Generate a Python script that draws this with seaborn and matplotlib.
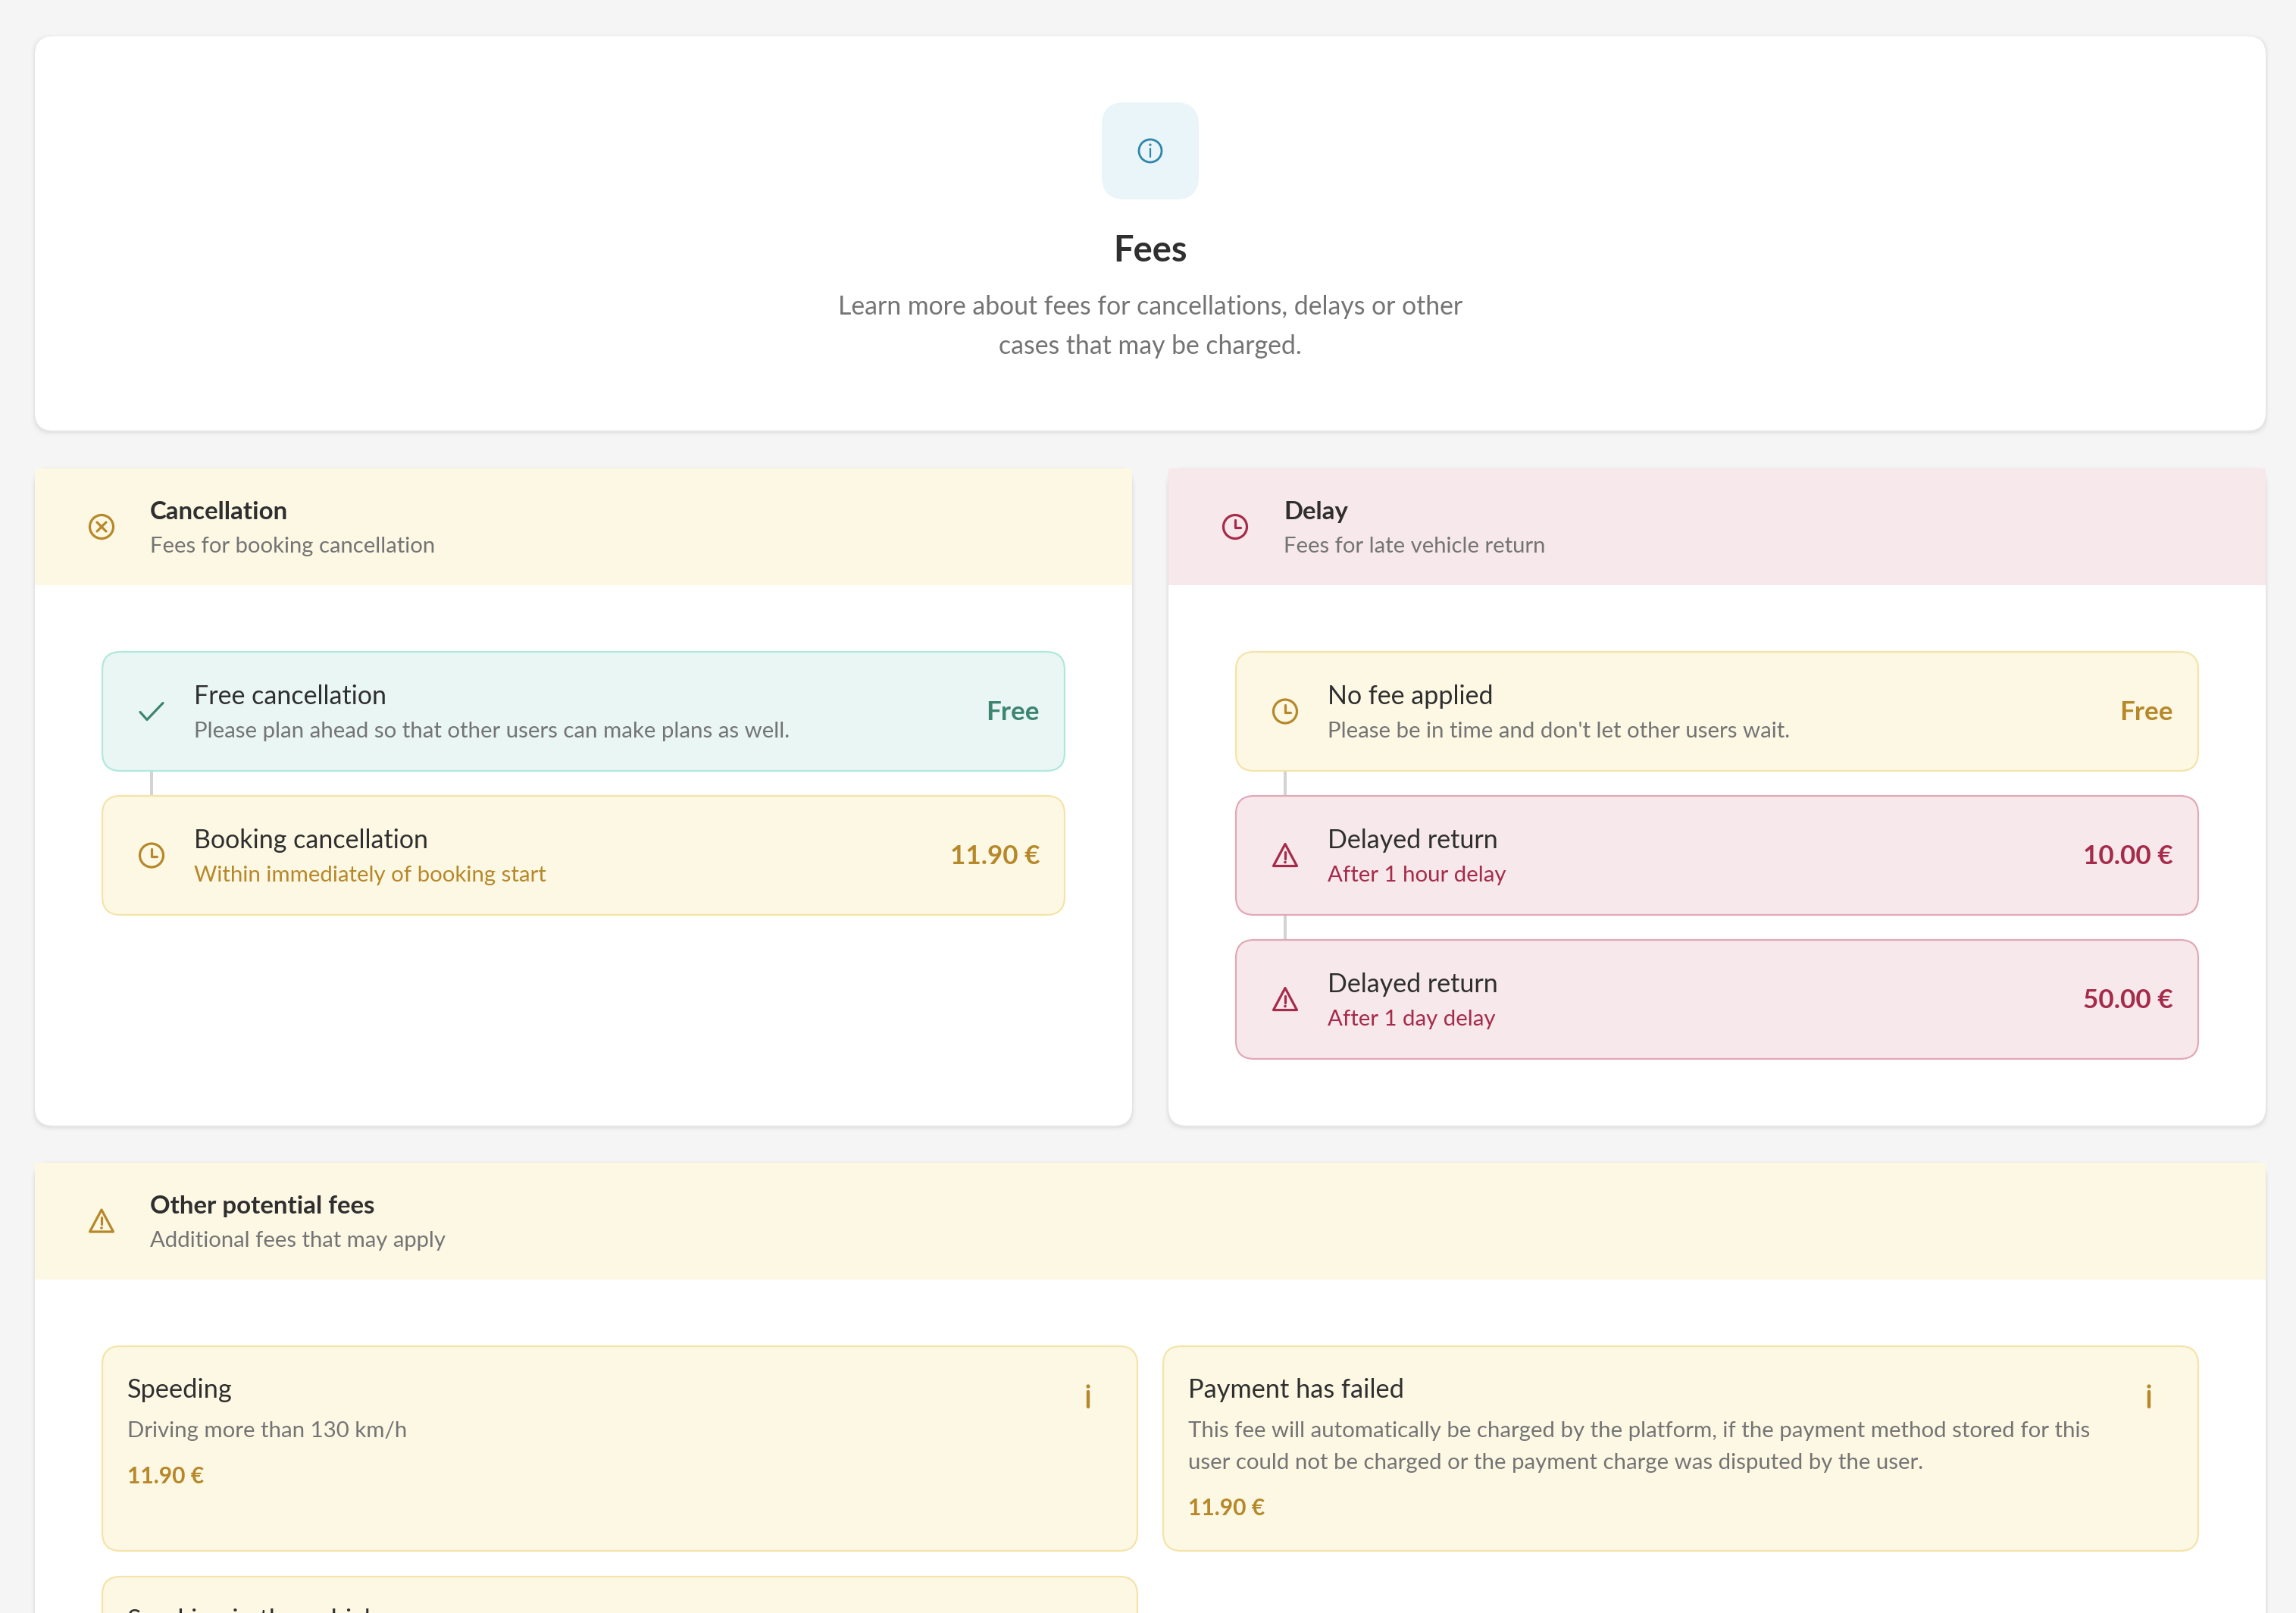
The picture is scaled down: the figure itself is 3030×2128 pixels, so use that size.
#!/usr/bin/env python3
# fees page, drawn in pixel coordinates on a single axes

import matplotlib
matplotlib.use('Agg')
import matplotlib.pyplot as plt
from matplotlib.patches import FancyBboxPatch, Rectangle, Circle, Polygon
import seaborn as sns

# texts
pageTitle = 'Fees'
pageIntro = ['Learn more about fees for cancellations, delays or other', 'cases that may be charged.']

cancelHeader = ['Cancellation', 'Fees for booking cancellation']
delayHeader = ['Delay', 'Fees for late vehicle return']
otherHeader = ['Other potential fees', 'Additional fees that may apply']

cancelTitles = ['Free cancellation', 'Booking cancellation']
cancelNotes = ['Please plan ahead so that other users can make plans as well.', 'Within immediately of booking start']
cancelFees = ['Free', '11.90 €']
cancelTones = ['teal', 'amber']
cancelIcons = ['check', 'clock']

delayTitles = ['No fee applied', 'Delayed return', 'Delayed return']
delayNotes = ["Please be in time and don't let other users wait.", 'After 1 hour delay', 'After 1 day delay']
delayFees = ['Free', '10.00 €', '50.00 €']
delayTones = ['amber', 'rose', 'rose']
delayIcons = ['clock', 'warn', 'warn']

otherTitles = ['Speeding', 'Payment has failed', 'Smoking in the vehicle']
otherNotes = [['Driving more than 130 km/h'],
              ['This fee will automatically be charged by the platform, if the payment method stored for this',
               'user could not be charged or the payment charge was disputed by the user.'],
              []]
otherFees = ['11.90 €', '11.90 €', '']

# colours
pageBg = '#f5f5f5'
inkDark = '#2f2f2f'
inkGray = '#747474'
lineGray = '#d3d3d3'
tones = {'teal': ('#e9f6f3', '#b0e8dc', '#3d8570'),
         'amber': ('#fdf8e4', '#f4e4a9', '#b6882a'),
         'rose': ('#f6e8eb', '#e2a8b6', '#a62b4a')}

PX = 72 / 100  # points per pixel at dpi 100

sns.set_theme(style='white')
plt.rcParams['font.family'] = ['Lato', 'DejaVu Sans']

fig = plt.figure(figsize=(30.3, 21.28), dpi=100, facecolor=pageBg)
ax = fig.add_axes([0, 0, 1, 1])
ax.set_xlim(0, 3030)
ax.set_ylim(2128, 0)
ax.set_facecolor(pageBg)
ax.set_xticks([])
ax.set_yticks([])
sns.despine(ax=ax, left=True, bottom=True)


def roundBox(x0, y0, x1, y1, r, face, edge='none', lw=0, z=2):
    box = FancyBboxPatch((x0, y0), x1 - x0, y1 - y0, boxstyle='round,pad=0,rounding_size=%g' % r,
                         facecolor=face, edgecolor=edge, linewidth=lw * PX, zorder=z)
    ax.add_patch(box)
    return box


def card(x0, y0, x1, y1):
    # soft shadow, then the white card
    for grow, alpha in [(5, 0.012), (3, 0.02), (1.5, 0.03)]:
        roundBox(x0 - grow, y0 - grow + 2, x1 + grow, y1 + grow + 2, 24, (0, 0, 0, alpha), z=1)
    roundBox(x0, y0, x1, y1, 24, 'white', z=2)


def say(x, y, s, size, color=inkDark, weight='normal', ha='left', z=6):
    ax.text(x, y, s, fontsize=size * PX, color=color, fontweight=weight, ha=ha, va='baseline',
            zorder=z, clip_on=True)


def stroke(xs, ys, color, lw=3.2, z=6):
    ax.plot(xs, ys, color=color, linewidth=lw * PX, solid_capstyle='round', solid_joinstyle='round', zorder=z)


def dot(cx, cy, r, color):
    ax.add_patch(Circle((cx, cy), r, facecolor=color, edgecolor='none', zorder=6))


def clockIcon(cx, cy, color):
    ax.add_patch(Circle((cx, cy), 15.5, fill=False, edgecolor=color, linewidth=3.2 * PX, zorder=6))
    stroke([cx, cx, cx + 7], [cy - 9, cy + 1, cy + 1], color)


def crossIcon(cx, cy, color):
    ax.add_patch(Circle((cx, cy), 15.5, fill=False, edgecolor=color, linewidth=3.2 * PX, zorder=6))
    stroke([cx - 6, cx + 6], [cy - 6, cy + 6], color)
    stroke([cx - 6, cx + 6], [cy + 6, cy - 6], color)


def checkIcon(cx, cy, color):
    stroke([cx - 15, cx - 6, cx + 15], [cy + 1, cy + 11, cy - 11], color)


def warnIcon(cx, cy, color):
    ax.add_patch(Polygon([(cx, cy - 15), (cx + 15.5, cy + 14), (cx - 15.5, cy + 14)], closed=True, fill=False,
                         edgecolor=color, linewidth=3.2 * PX, joinstyle='round', zorder=6))
    stroke([cx, cx], [cy - 5, cy + 4], color)
    dot(cx, cy + 9, 1.8, color)


def infoIcon(cx, cy, color):
    ax.add_patch(Circle((cx, cy), 15, fill=False, edgecolor=color, linewidth=2.8 * PX, zorder=6))
    stroke([cx, cx], [cy - 3, cy + 8], color, lw=2.2)
    dot(cx, cy - 8, 1.6, color)


iconDraw = {'clock': clockIcon, 'cross': crossIcon, 'check': checkIcon, 'warn': warnIcon}


def header(x0, x1, y0, texts, tone, icon):
    face, _, ink = tones[tone]
    ax.add_patch(Rectangle((x0, y0), x1 - x0, 154, facecolor=face, edgecolor='none', zorder=3))
    iconDraw[icon](x0 + 88, y0 + 77, ink)
    say(x0 + 152, y0 + 67, texts[0], 33, weight='bold')
    say(x0 + 152, y0 + 111, texts[1], 29.3, color=inkGray)


def rowStack(x0, x1, titles, notes, fees, toneNames, icons):
    # rows sit 190 px apart with a grey connector between them
    for i in range(len(titles)):
        top = 860 + 190 * i
        face, edge, ink = tones[toneNames[i]]
        if i > 0:
            sns.lineplot(x=[x0 + 65, x0 + 65], y=[top - 34, top], estimator=None, color=lineGray,
                         linewidth=4 * PX, ax=ax, legend=False, zorder=3)
        roundBox(x0, top, x1, top + 157, 24, face, edge, 2.2, z=4)
        iconDraw[icons[i]](x0 + 65, top + 78.5, ink)
        say(x0 - 1 + 122, top + 69, titles[i], 34)
        noteInk = inkGray if i == 0 else ink
        say(x0 - 1 + 122, top + 113, notes[i], 29.4, color=noteInk)
        say(x1 - 33, top + 90, fees[i], 35, color=ink, weight='bold', ha='right')


def tile(x0, x1, y0, y1, title, notes, fee):
    face, edge, ink = tones['amber']
    roundBox(x0, y0, x1, y1, 24, face, edge, 2.2, z=4)
    say(x0 + 33, y0 + 68, title, 34.4)
    base = y0 + 120
    for line in notes:
        say(x0 + 33, base, line, 29.4, color=inkGray)
        base += 42
    if fee:
        say(x0 + 33, base + 19, fee, 30, color=ink, weight='bold')
        # small i mark at the right of the tile
        stroke([x1 - 65, x1 - 65], [y0 + 60, y0 + 80], ink, lw=4.4)
        dot(x1 - 65, y0 + 53, 2.6, ink)


# top card
card(46, 48, 2990, 568)
roundBox(1454, 135, 1582, 263, 30, '#e9f5f9', z=3)
infoIcon(1518, 199, '#2f86ab')
say(1518, 345, pageTitle, 47, weight='bold', ha='center')
say(1518, 415, pageIntro[0], 33.8, color=inkGray, ha='center')
say(1518, 467, pageIntro[1], 33.8, color=inkGray, ha='center')

# cancellation and delay cards
card(46, 618, 1494, 1485)
header(46, 1494, 618, cancelHeader, 'amber', 'cross')
rowStack(135, 1405, cancelTitles, cancelNotes, cancelFees, cancelTones, cancelIcons)

card(1542, 618, 2990, 1485)
header(1542, 2990, 618, delayHeader, 'rose', 'clock')
rowStack(1631, 2901, delayTitles, delayNotes, delayFees, delayTones, delayIcons)

# other fees card runs off the bottom of the page
card(46, 1534, 2990, 2300)
header(46, 2990, 1534, otherHeader, 'amber', 'warn')
tile(135, 1501, 1776, 2046, otherTitles[0], otherNotes[0], otherFees[0])
tile(1535, 2901, 1776, 2046, otherTitles[1], otherNotes[1], otherFees[1])
tile(135, 1501, 2080, 2352, otherTitles[2], otherNotes[2], otherFees[2])

ax.set_xlim(0, 3030)
ax.set_ylim(2128, 0)
fig.savefig('out.png', dpi=100, facecolor=pageBg)
